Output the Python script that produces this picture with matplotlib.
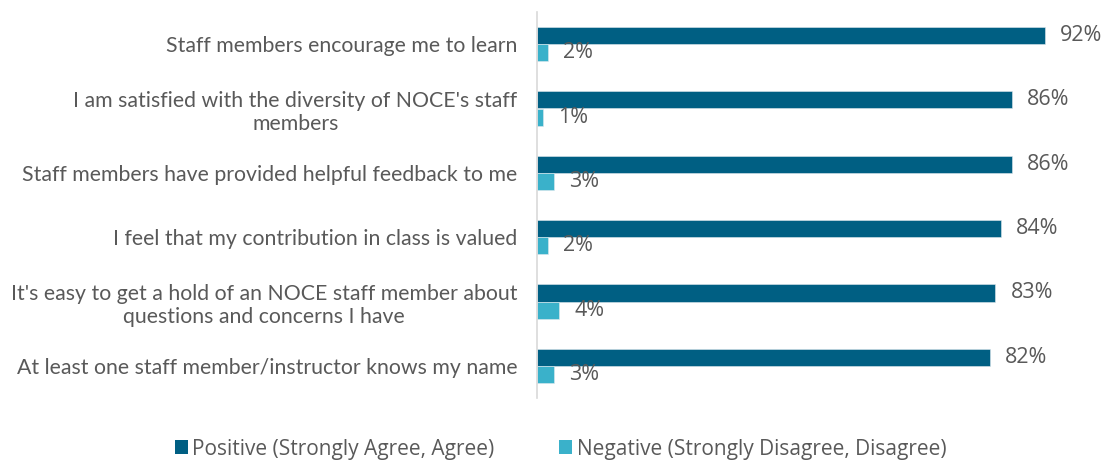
import matplotlib
matplotlib.use("Agg")
from matplotlib import pyplot as plt
from matplotlib.patches import Patch

categories = [
    "Staff members encourage me to learn",
    "I am satisfied with the diversity of NOCE's staff\nmembers",
    "Staff members have provided helpful feedback to me",
    "I feel that my contribution in class is valued",
    "It's easy to get a hold of an NOCE staff member about\nquestions and concerns I have",
    "At least one staff member/instructor knows my name",
]
positive = [92, 86, 86, 84, 83, 82]
negative = [2, 1, 3, 2, 4, 3]
series_names = ["Positive (Strongly Agree, Agree)", "Negative (Strongly Disagree, Disagree)"]

dark = "#005F83"
light = "#3AB1CA"
grey = "#595959"

fig = plt.figure(figsize=(11.01, 4.61), dpi=100)
ax = fig.add_axes([537 / 1101, 63 / 461, 552 / 1101, 386 / 461])

y = list(range(len(categories)))
h = 0.265
ax.barh([v - h / 2 for v in y], positive, height=h, color=dark, edgecolor="#dfe9ee", linewidth=0.4)
ax.barh([v + h / 2 for v in y], negative, height=h, color=light, edgecolor="#dfe9ee", linewidth=0.4)

for i in y:
    ax.annotate(f"{positive[i]}%", (positive[i], i - h / 2), xytext=(11, 0), textcoords="offset points",
                va="center", ha="left", fontsize=15.5, color=grey, family="Open Sans", annotation_clip=False)
    ax.annotate(f"{negative[i]}%", (negative[i], i + h / 2), xytext=(11, 0), textcoords="offset points",
                va="center", ha="left", fontsize=15.5, color=grey, family="Open Sans", annotation_clip=False)

ax.set_xlim(0, 100)
ax.set_ylim(len(categories) - 0.5, -0.5)
ax.set_yticks(y)
ax.set_yticklabels(categories, fontsize=15.3, color=grey, family="Lato", multialignment="center")
ax.tick_params(axis="y", length=0, pad=14)
ax.set_xticks([])
for s in ["top", "right", "bottom"]:
    ax.spines[s].set_visible(False)
ax.spines["left"].set_color("#d9d9d9")
ax.spines["left"].set_linewidth(1.2)

handles = [Patch(facecolor=dark), Patch(facecolor=light)]
fig.legend(handles, series_names, loc="center", bbox_to_anchor=(0.509, 12 / 461), ncol=2,
           frameon=False, handlelength=0.64, handleheight=0.64, handletextpad=0.2, columnspacing=3.1,
           prop={"family": "Open Sans", "size": 15.0}, labelcolor=grey)

fig.savefig("out.png", dpi=100)
